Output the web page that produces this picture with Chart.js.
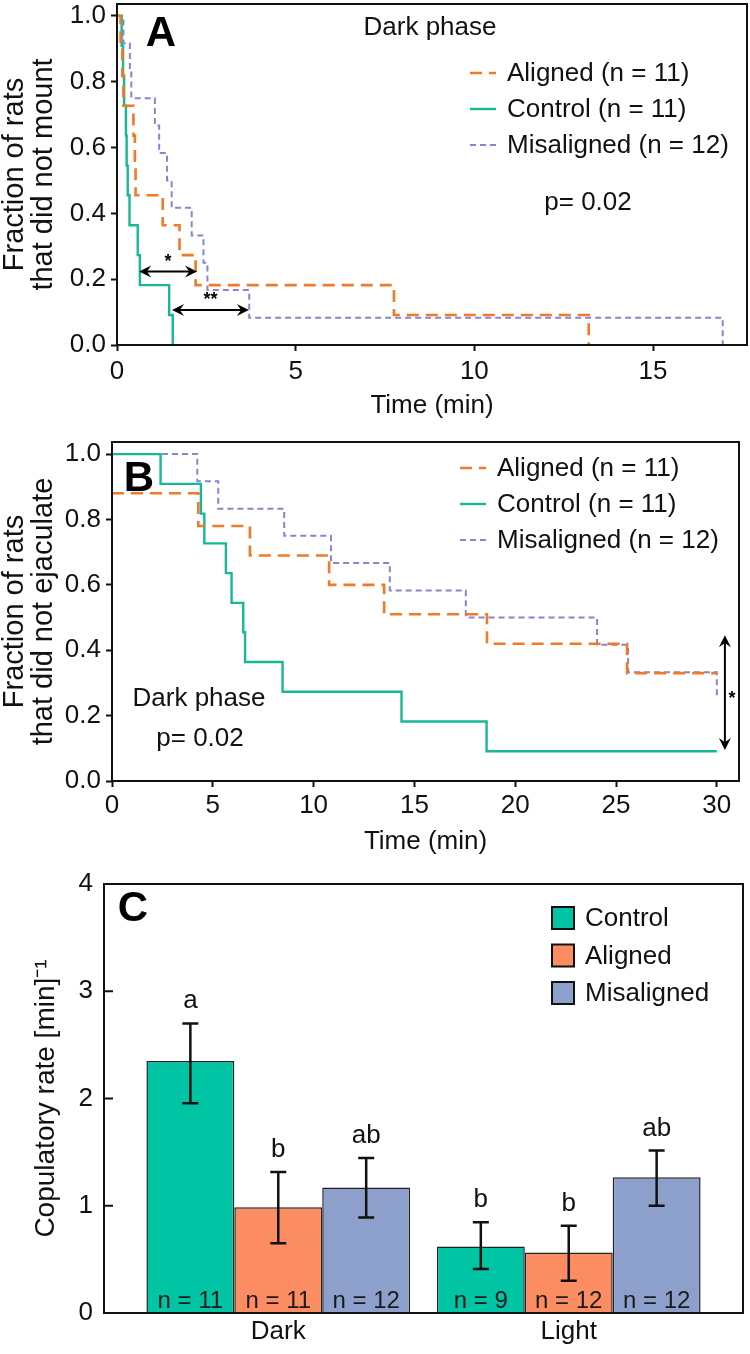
<!DOCTYPE html>
<html><head><meta charset="utf-8">
<script src="https://cdn.jsdelivr.net/npm/chart.js@4.4.0/dist/chart.umd.min.js"></script>
<style>
html,body{margin:0;padding:0;background:#fff;}
body{width:750px;height:1354px;position:relative;overflow:hidden;}
canvas{position:absolute;left:0;}
</style></head><body>
<canvas id="cA" width="750" height="430" style="top:0px"></canvas>
<canvas id="cB" width="750" height="440" style="top:430px"></canvas>
<canvas id="cC" width="750" height="494" style="top:860px"></canvas>
<script>
// ---------------- DATA ----------------
// Panel A: latency to mount (Kaplan-Meier), time in min / fraction
const mountTimeTicks = [0, 5, 10, 15];
const fractionTicks = [0, 0.2, 0.4, 0.6, 0.8, 1.0];
const mountAlignedT = [0, 0.10, 0.15, 0.18, 0.46, 0.50, 0.52, 1.28, 1.75, 2.20, 7.75, 13.2];
const mountAlignedS = [1, 0.909, 0.818, 0.727, 0.636, 0.545, 0.455, 0.364, 0.273, 0.182, 0.091, 0];
const mountControlT = [0, 0.13, 0.17, 0.20, 0.25, 0.27, 0.30, 0.35, 0.58, 0.64, 1.46, 1.56];
const mountControlS = [1, 0.909, 0.818, 0.727, 0.636, 0.545, 0.455, 0.364, 0.273, 0.182, 0.091, 0];
const mountMisT = [0, 0.18, 0.36, 0.40, 1.06, 1.18, 1.40, 1.53, 2.09, 2.42, 2.53, 3.70, 16.95];
const mountMisS = [1, 0.917, 0.833, 0.75, 0.667, 0.583, 0.5, 0.417, 0.333, 0.25, 0.167, 0.083, 0];
// significance arrows in A: [tStart, tEnd, fraction, label]
const mountSigArrows = [[0.62, 2.24, 0.223, '*'], [1.54, 3.69, 0.106, '**']];

// Panel B: latency to ejaculate
const ejacTimeTicks = [0, 5, 10, 15, 20, 25, 30];
const ejacAlignedT = [0, 4.28, 6.84, 10.77, 13.5, 18.6, 25.55, 30.0];
const ejacAlignedS = [0.88, 0.78, 0.69, 0.60, 0.51, 0.42, 0.33, 0.33];
const ejacControlT = [0, 2.41, 4.41, 4.58, 5.65, 5.93, 6.51, 6.60, 8.46, 14.36, 18.58, 30.0];
const ejacControlS = [1, 0.909, 0.818, 0.727, 0.636, 0.545, 0.455, 0.364, 0.273, 0.182, 0.091, 0.091];
const ejacMisT = [0, 4.23, 5.27, 8.54, 10.86, 13.78, 17.55, 24.06, 25.6, 30.0];
const ejacMisS = [1, 0.917, 0.833, 0.75, 0.667, 0.583, 0.5, 0.417, 0.333, 0.25];
// vertical significance arrow in B: [time, fromFraction, toFraction, label]
const ejacSigArrow = [30.4, 0.446, 0.095, '*'];

// Panel C: copulatory rate
const phases = ['Dark', 'Light'];
const rateTicks = [0, 1, 2, 3, 4];
const rateControl = [2.35, 0.62];
const rateControlLow = [1.955, 0.41];
const rateControlHigh = [2.70, 0.845];
const rateAligned = [0.985, 0.563];
const rateAlignedLow = [0.65, 0.30];
const rateAlignedHigh = [1.315, 0.814];
const rateMis = [1.17, 1.265];
const rateMisLow = [0.89, 1.0];
const rateMisHigh = [1.445, 1.514];
const nControl = [11, 9];
const nAligned = [11, 12];
const nMis = [12, 12];
const letterControl = ['a', 'b'];
const letterAligned = ['b', 'b'];
const letterMis = ['ab', 'ab'];

// ---------------- STYLE ----------------
const FONT = "'Liberation Sans', Arial, Helvetica, sans-serif";
Chart.defaults.font.family = FONT;
Chart.defaults.color = '#111';
const COL_ALIGNED_LINE = '#f07a28';
const COL_CONTROL_LINE = '#17b894';
const COL_MIS_LINE = '#8884d0';
const COL_CONTROL_BAR = '#00c4a3';
const COL_ALIGNED_BAR = '#fc8d62';
const COL_MIS_BAR = '#8da0cb';

function kmDataset(label, T, S, color, dash, width) {
  return {
    label, data: T.map((t, i) => ({x: t, y: S[i]})),
    borderColor: color, backgroundColor: color, borderDash: dash, borderWidth: width,
    stepped: 'before', pointRadius: 0, fill: false, tension: 0
  };
}

function drawArrowHead(ctx, x, y, ang, len, hw) {
  const c = Math.cos(ang), s = Math.sin(ang);
  ctx.beginPath();
  ctx.moveTo(x, y);
  ctx.lineTo(x - len * c + hw * s, y - len * s - hw * c);
  ctx.lineTo(x - len * 0.65 * c, y - len * 0.65 * s);
  ctx.lineTo(x - len * c - hw * s, y - len * s + hw * c);
  ctx.closePath();
  ctx.fill();
}
function drawDoubleArrow(ctx, x1, y1, x2, y2) {
  const ang = Math.atan2(y2 - y1, x2 - x1);
  ctx.beginPath();
  ctx.moveTo(x1 + 5 * Math.cos(ang), y1 + 5 * Math.sin(ang));
  ctx.lineTo(x2 - 5 * Math.cos(ang), y2 - 5 * Math.sin(ang));
  ctx.stroke();
  drawArrowHead(ctx, x2, y2, ang, 12, 6);
  drawArrowHead(ctx, x1, y1, ang + Math.PI, 12, 6);
}

function kmOptions(cfg) {
  return {
    responsive: false, animation: false, events: [],
    layout: {padding: {top: cfg.padTop, right: cfg.padRight, left: 0, bottom: 0}, autoPadding: false},
    plugins: {legend: {display: false}, tooltip: {enabled: false}},
    scales: {
      x: {
        type: 'linear', min: 0, max: cfg.xMax,
        afterBuildTicks: s => { s.ticks = cfg.xTicks.map(v => ({value: v})); },
        afterFit: s => { s.height = cfg.xAxisHeight; s.paddingLeft = 0; s.paddingRight = 0; },
        ticks: {font: {size: 26}, color: '#111', padding: cfg.xTickPad, maxRotation: 0, autoSkip: false, callback: v => String(v)},
        grid: {display: true, drawOnChartArea: false, drawTicks: true, tickLength: 6, tickWidth: 2, tickColor: '#111'},
        border: {display: false},
        title: {display: true, text: 'Time (min)', font: {size: 26}, color: '#111', padding: {top: 0, bottom: cfg.titlePadBottom}}
      },
      y: {
        type: 'linear', min: 0, max: cfg.yMax,
        afterBuildTicks: s => { s.ticks = fractionTicks.map(v => ({value: v})); },
        afterFit: s => { s.width = cfg.yAxisWidth; s.paddingTop = 0; s.paddingBottom = 0; },
        ticks: {font: {size: 26}, color: '#111', padding: 5, autoSkip: false, callback: v => Number(v).toFixed(1)},
        grid: {display: true, drawOnChartArea: false, drawTicks: true, tickLength: 6, tickWidth: 2, tickColor: '#111'},
        border: {display: false},
        title: {display: true, text: cfg.yTitle, font: {size: 29, lineHeight: 1}, color: '#111', padding: {top: 0, bottom: 0}}
      }
    }
  };
}

function kmDecor(cfg) {
  return {
    id: 'kmDecor' + cfg.letter,
    afterDraw(chart) {
      const {ctx, chartArea: a, scales: {x, y}} = chart;
      ctx.save();
      ctx.strokeStyle = '#111'; ctx.lineWidth = 2; ctx.setLineDash([]);
      ctx.strokeRect(a.left, a.top, a.right - a.left, a.bottom - a.top);
      ctx.fillStyle = '#000'; ctx.textAlign = 'center'; ctx.textBaseline = 'middle';
      ctx.font = 'bold 42px ' + FONT;
      ctx.fillText(cfg.letter, cfg.letterX, cfg.letterY);
      ctx.font = '26px ' + FONT; ctx.fillStyle = '#111';
      cfg.texts.forEach(t => ctx.fillText(t[0], t[1], t[2]));
      // legend
      ctx.textAlign = 'left';
      chart.data.datasets.forEach((ds, i) => {
        const yy = cfg.legY + i * cfg.legStep;
        ctx.strokeStyle = ds.borderColor; ctx.lineWidth = ds.borderWidth;
        ctx.setLineDash(ds.borderDash || []);
        ctx.beginPath(); ctx.moveTo(cfg.legX, yy); ctx.lineTo(cfg.legX + 26, yy); ctx.stroke();
        ctx.setLineDash([]);
        ctx.fillStyle = '#111';
        ctx.fillText(ds.label, cfg.legX + 37, yy + 1);
      });
      // arrows
      ctx.strokeStyle = '#000'; ctx.fillStyle = '#000'; ctx.lineWidth = 2; ctx.setLineDash([]);
      ctx.textAlign = 'center';
      cfg.drawArrows(ctx, x, y);
      ctx.restore();
    }
  };
}

// ---------------- PANEL A ----------------
new Chart(document.getElementById('cA'), {
  type: 'line',
  data: {datasets: [
    kmDataset('Aligned (n = 11)', mountAlignedT, mountAlignedS, COL_ALIGNED_LINE, [12, 7], 2.6),
    kmDataset('Control (n = 11)', mountControlT, mountControlS, COL_CONTROL_LINE, [], 2.4),
    kmDataset('Misaligned (n = 12)', mountMisT, mountMisS, COL_MIS_LINE, [6, 4], 2)
  ]},
  options: kmOptions({padTop: 4, padRight: 3, xMax: 17.63, yMax: 1.036, xTicks: mountTimeTicks,
    xAxisHeight: 85, yAxisWidth: 117, xTickPad: 5, titlePadBottom: 9,
    yTitle: ['Fraction of rats', 'that did not mount']}),
  plugins: [kmDecor({letter: 'A', letterX: 161, letterY: 34,
    texts: [['Dark phase', 430, 28], ['p= 0.02', 588, 203]],
    legX: 470, legY: 73, legStep: 36,
    drawArrows(ctx, x, y) {
      mountSigArrows.forEach(ar => {
        const yy = y.getPixelForValue(ar[2]);
        drawDoubleArrow(ctx, x.getPixelForValue(ar[0]), yy, x.getPixelForValue(ar[1]), yy);
        ctx.font = 'bold 18px ' + FONT;
        ctx.fillText(ar[3], (x.getPixelForValue(ar[0]) + x.getPixelForValue(ar[1])) / 2, yy - 10);
      });
    }})]
});

// ---------------- PANEL B ----------------
new Chart(document.getElementById('cB'), {
  type: 'line',
  data: {datasets: [
    kmDataset('Aligned (n = 11)', ejacAlignedT, ejacAlignedS, COL_ALIGNED_LINE, [12, 7], 2.6),
    kmDataset('Control (n = 11)', ejacControlT, ejacControlS, COL_CONTROL_LINE, [], 2.4),
    kmDataset('Misaligned (n = 12)', ejacMisT, ejacMisS, COL_MIS_LINE, [6, 4], 2)
  ]},
  options: kmOptions({padTop: 12, padRight: 11, xMax: 31.1, yMax: 1.037, xTicks: ejacTimeTicks,
    xAxisHeight: 89, yAxisWidth: 112, xTickPad: 3, titlePadBottom: 13,
    yTitle: ['Fraction of rats', 'that did not ejaculate']}),
  plugins: [kmDecor({letter: 'B', letterX: 139, letterY: 49,
    texts: [['Dark phase', 199, 269], ['p= 0.02', 200, 309]],
    legX: 460, legY: 38, legStep: 36,
    drawArrows(ctx, x, y) {
      const xx = x.getPixelForValue(ejacSigArrow[0]);
      drawDoubleArrow(ctx, xx, y.getPixelForValue(ejacSigArrow[1]), xx, y.getPixelForValue(ejacSigArrow[2]));
      ctx.font = 'bold 18px ' + FONT;
      ctx.fillText(ejacSigArrow[3], xx + 7, (y.getPixelForValue(ejacSigArrow[1]) + y.getPixelForValue(ejacSigArrow[2])) / 2 + 6);
    }})]
});

// ---------------- PANEL C ----------------
const phaseX = phases.map((p, i) => i + 1);
const barSeries = [
  {label: 'Control', vals: rateControl, low: rateControlLow, high: rateControlHigh, n: nControl, let: letterControl, color: COL_CONTROL_BAR},
  {label: 'Aligned', vals: rateAligned, low: rateAlignedLow, high: rateAlignedHigh, n: nAligned, let: letterAligned, color: COL_ALIGNED_BAR},
  {label: 'Misaligned', vals: rateMis, low: rateMisLow, high: rateMisHigh, n: nMis, let: letterMis, color: COL_MIS_BAR}
];

const barDecor = {
  id: 'barDecor',
  afterDraw(chart) {
    const {ctx, chartArea: a, scales: {y}} = chart;
    ctx.save();
    // inward y ticks
    ctx.strokeStyle = '#111'; ctx.lineWidth = 2;
    y.ticks.forEach(t => {
      const yy = y.getPixelForValue(t.value);
      ctx.beginPath(); ctx.moveTo(a.left, yy); ctx.lineTo(a.left + 9, yy); ctx.stroke();
    });
    ctx.strokeRect(a.left, a.top, a.right - a.left, a.bottom - a.top);
    barSeries.forEach((s, di) => {
      const meta = chart.getDatasetMeta(di);
      meta.data.forEach((bar, i) => {
        const yh = y.getPixelForValue(s.high[i]);
        const yl = y.getPixelForValue(s.low[i]);
        ctx.strokeStyle = '#111'; ctx.lineWidth = 2.5;
        ctx.beginPath();
        ctx.moveTo(bar.x, yh); ctx.lineTo(bar.x, yl);
        ctx.moveTo(bar.x - 8, yh); ctx.lineTo(bar.x + 8, yh);
        ctx.moveTo(bar.x - 8, yl); ctx.lineTo(bar.x + 8, yl);
        ctx.stroke();
        ctx.fillStyle = '#111'; ctx.textAlign = 'center'; ctx.textBaseline = 'alphabetic';
        ctx.font = '26px ' + FONT;
        ctx.fillText(s.let[i], bar.x, yh - 15);
        ctx.font = '24px ' + FONT; ctx.fillStyle = '#1a1a1a';
        ctx.fillText('n = ' + s.n[i], bar.x, a.bottom - 5);
      });
    });
    // legend
    ctx.textAlign = 'left'; ctx.textBaseline = 'middle';
    barSeries.forEach((s, i) => {
      const yy = 58 + i * 37.5;
      ctx.fillStyle = s.color; ctx.fillRect(552, yy - 11, 22, 22);
      ctx.strokeStyle = '#111'; ctx.lineWidth = 2; ctx.strokeRect(552, yy - 11, 22, 22);
      ctx.fillStyle = '#111'; ctx.font = '26px ' + FONT;
      ctx.fillText(s.label, 585, yy + 1);
    });
    ctx.fillStyle = '#000'; ctx.font = 'bold 42px ' + FONT; ctx.textAlign = 'center';
    ctx.fillText('C', 133, 49);
    ctx.restore();
  }
};

new Chart(document.getElementById('cC'), {
  type: 'bar',
  data: {datasets: barSeries.map(s => ({
    label: s.label,
    data: phaseX.map((x, i) => ({x: x, y: s.vals[i]})),
    backgroundColor: s.color, borderColor: '#222', borderWidth: 1.5,
    categoryPercentage: 0.908, barPercentage: 1.0
  }))},
  options: {
    responsive: false, animation: false, events: [],
    layout: {padding: {top: 24, right: 7, left: 0, bottom: 0}, autoPadding: false},
    plugins: {legend: {display: false}, tooltip: {enabled: false}},
    scales: {
      x: {
        type: 'linear', min: 0.4, max: 2.6, offset: false,
        afterBuildTicks: s => { s.ticks = phaseX.map(v => ({value: v})); },
        afterFit: s => { s.height = 41; s.paddingLeft = 0; s.paddingRight = 0; },
        ticks: {font: {size: 26}, color: '#111', padding: 3, maxRotation: 0, autoSkip: false,
          callback: v => phases[Math.round(v) - 1]},
        grid: {display: false, drawTicks: false, offset: false},
        border: {display: false}
      },
      y: {
        type: 'linear', min: 0, max: 4,
        afterBuildTicks: s => { s.ticks = rateTicks.map(v => ({value: v})); },
        afterFit: s => { s.width = 104; s.paddingTop = 0; s.paddingBottom = 0; },
        ticks: {font: {size: 26}, color: '#111', padding: 11, autoSkip: false, callback: v => String(v)},
        grid: {display: false, drawTicks: false},
        border: {display: false},
        title: {display: true, text: 'Copulatory rate [min]\u207B\u00B9', font: {size: 28}, color: '#111', padding: {top: 29, bottom: 0}}
      }
    }
  },
  plugins: [barDecor]
});
</script>
</body></html>
